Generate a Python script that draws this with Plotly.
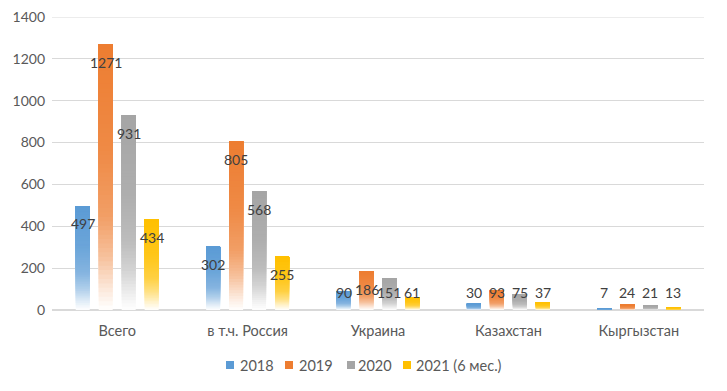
import plotly.graph_objects as go

categories = ["Всего", "в т.ч. Россия", "Украина", "Казахстан", "Кыргызстан"]
series_names = ["2018", "2019", "2020", "2021 (6 мес.)"]
v2018 = [497, 302, 90, 30, 7]
v2019 = [1271, 805, 186, 93, 24]
v2020 = [931, 568, 151, 75, 21]
v2021 = [434, 255, 61, 37, 13]
series_values = [v2018, v2019, v2020, v2021]
colors = ["#5B9BD5", "#ED7D31", "#A5A5A5", "#FFC000"]

# page body has an 8px margin; figure is sized to fit the 727x391 window
W, H = 719, 383
ML, MR, MT, MB = 44, 23, 9, 81
PW, PH = W - ML - MR, H - MT - MB
FONT = "Lato, sans-serif"
GRID = "#D9D9D9"

N = 60
stops = [(0.0, 0.0), (0.08, 0.18), (0.2, 0.48), (0.35, 0.74), (0.6, 0.9), (1.0, 1.0)]


def alpha(t):
    for (t0, a0), (t1, a1) in zip(stops[:-1], stops[1:]):
        if t <= t1:
            return a0 + (a1 - a0) * (t - t0) / (t1 - t0)
    return 1.0


def blend(hexc, a):
    r, g, b = int(hexc[1:3], 16), int(hexc[3:5], 16), int(hexc[5:7], 16)
    r = round(255 + (r - 255) * a)
    g = round(255 + (g - 255) * a)
    b = round(255 + (b - 255) * a)
    return f"rgb({r},{g},{b})"


fig = go.Figure()
for si, (name, vals, col) in enumerate(zip(series_names, series_values, colors)):
    for k in range(N):
        t = (k + 0.5) / N
        fig.add_trace(go.Bar(
            x=categories,
            y=[v * (1 - k / N) for v in vals],
            base=[v * k / N for v in vals],
            offsetgroup=str(si),
            name=name,
            showlegend=False,
            marker=dict(color=blend(col, alpha(t)), line=dict(width=0)),
            hoverinfo="skip",
        ))

# data labels
ncat = len(categories)
nser = len(series_names)
slot = 0.705 / nser
for si, vals in enumerate(series_values):
    for ci, v in enumerate(vals):
        off = (si - (nser - 1) / 2) * slot
        fig.add_annotation(
            x=ci + off, y=max(v - 86, 84), xref="x", yref="y",
            text=str(v), showarrow=False,
            font=dict(size=14, color="#404040", family=FONT),
            xanchor="center", yanchor="middle",
        )

# top gridline (plotly drops gridlines at the plot edge)
fig.add_shape(type="line", xref="paper", yref="y", x0=0, x1=1, y0=1400, y1=1400,
              line=dict(color=GRID, width=1), layer="below")


# legend (Excel-style: small squares, tight spacing)
def px_x(px):  # window pixel -> paper x
    return (px - 8 - ML) / PW


def px_y(py):  # window pixel -> paper y
    return (H - MB - (py - 8)) / PH


sq_left = [226, 285, 347, 403]
txt_left = [238, 297, 356, 414]
leg_y = 365
for name, col, sx, tx in zip(series_names, colors, sq_left, txt_left):
    fig.add_shape(type="rect", xref="paper", yref="paper",
                  x0=px_x(sx), x1=px_x(sx + 8), y0=px_y(leg_y + 4), y1=px_y(leg_y - 4),
                  fillcolor=col, line=dict(width=0))
    fig.add_annotation(x=px_x(tx), y=px_y(leg_y), xref="paper", yref="paper",
                       text=name, showarrow=False, xanchor="left", yanchor="middle",
                       font=dict(size=14.5, color="#595959", family=FONT))

fig.update_layout(
    width=W, height=H,
    margin=dict(l=ML, r=MR, t=MT, b=MB, autoexpand=False),
    paper_bgcolor="white", plot_bgcolor="white",
    barmode="group",
    bargap=0.295, bargroupgap=0.39,
    font=dict(family=FONT, size=14, color="#595959"),
    showlegend=False,
    xaxis=dict(type="category", showgrid=False, showline=True, linecolor=GRID,
               ticks="", tickfont=dict(size=14.5, color="#595959"), ticklabelstandoff=8,
               range=[-0.5, ncat - 0.5], automargin=False),
    yaxis=dict(range=[0, 1400], tickvals=[0, 200, 400, 600, 800, 1000, 1200, 1400],
               showgrid=True, gridcolor=GRID,
               zeroline=True, zerolinecolor=GRID, showline=False, ticks="",
               tickfont=dict(size=14, color="#595959"), ticklabelstandoff=6,
               ticklabeloverflow="allow", automargin=False),
)

fig.write_html("out.html")
